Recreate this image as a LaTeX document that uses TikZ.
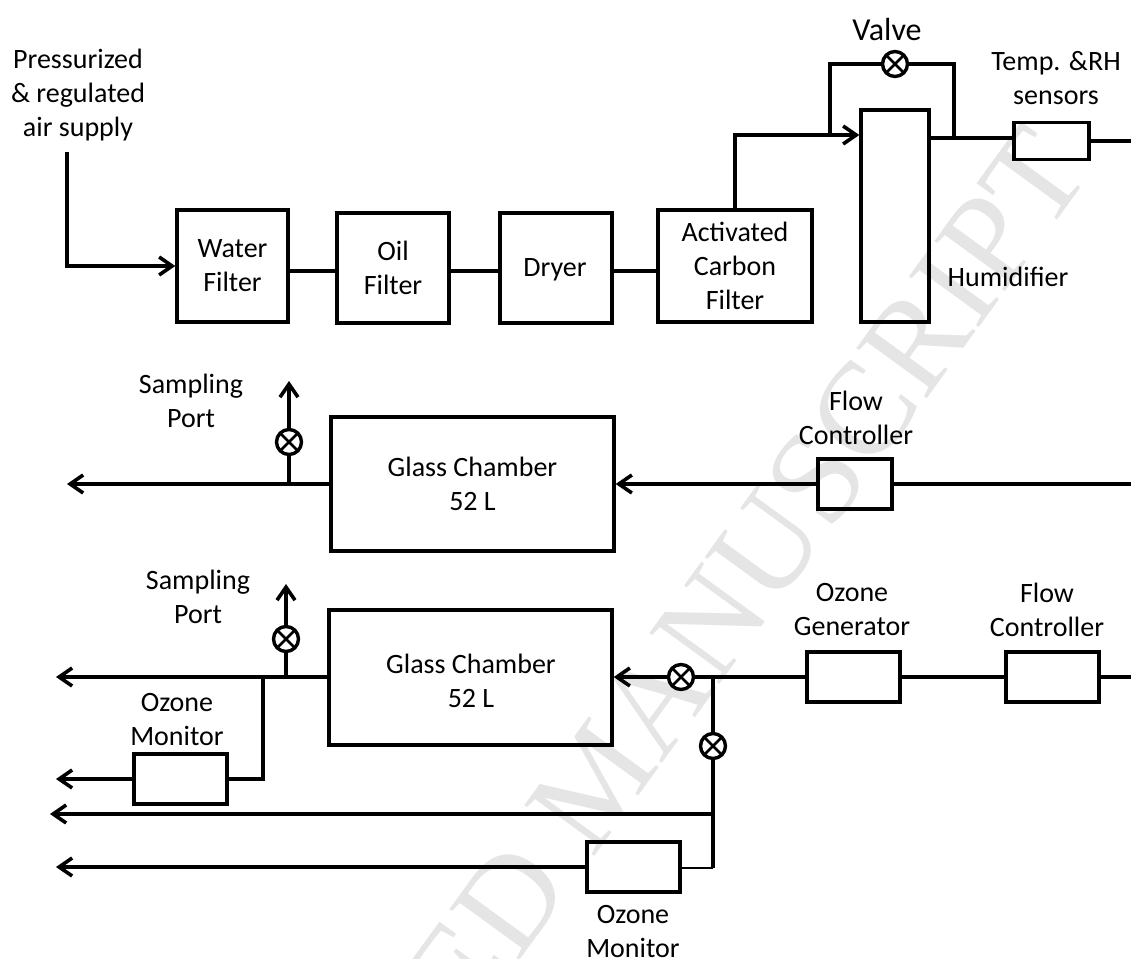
\documentclass[tikz,border=0pt]{standalone}
\usepackage{fontspec}
\setmainfont{Carlito}
\newfontfamily\markfont{Liberation Serif}
\usetikzlibrary{arrows.meta}
\tikzset{
  basic/.style  = {draw, line width=3.4pt, rectangle, inner sep=0pt, align=center},
  unit/.style   = {basic, minimum width=#1, minimum height=112pt},
  sensor/.style = {basic, minimum width=#1, minimum height=50pt},
  chamber/.style = {basic, minimum width=283pt, minimum height=135pt},
  valve/.style  = {draw, circle, line width=3.4pt, minimum size=25pt, inner sep=0pt, fill=white,
    path picture={
      \draw[line width=2.6pt] (path picture bounding box.south west) -- (path picture bounding box.north east);
      \draw[line width=2.6pt] (path picture bounding box.north west) -- (path picture bounding box.south east);
    }},
  label/.style  = {align=center, inner sep=0pt},
  pipe/.style   = {draw, line width=3.2pt},
  feed/.style   = {pipe, -{Straight Barb[length=13pt,width=18pt,line width=3.6pt]}},
  watermark/.style = {anchor=base east, inner sep=0pt, rotate=54, text=black!10, font=\markfont\fontsize{132}{132}\selectfont}
}

\begin{document}
\begin{tikzpicture}[x=1pt, y=-1pt, font=\fontsize{28}{34}\selectfont]
	\useasboundingbox (0,0) rectangle (1131,958);
	\begin{scope}
		\clip (0,0) rectangle (1131,958);
		\node[watermark] (mark) at (1093,171) {ACCEPTED MANUSCRIPT};
	\end{scope}

	% air treatment line
	\node[unit=111pt] (water) at (232.5,266) {Water\\Filter};
	\node[unit=112pt, minimum height=110pt] (oil) at (393,268) {Oil\\Filter};
	\node[unit=112pt, minimum height=110pt] (dryer) at (556,268) {};
	\node[unit=154pt] (carbon) at (735,266) {Activated\\Carbon\\Filter};
	\node[basic, minimum width=68pt, minimum height=212pt] (humid) at (895,216) {};
	\node[basic, minimum width=75pt, minimum height=37pt] (sensors) at (1051.5,141) {};
	\node[valve] (valve1) at (895,64) {};
	\node[label] (dryerlabel) at (555,270) {Dryer};
	\node[label] (air) at (78,95) {Pressurized\\\& regulated\\air supply};
	\node[label, font=\fontsize{32}{34}\selectfont] (valvelabel) at (887,30) {Valve};
	\node[label] (templabel) at (1056,78) {Temp. \&RH\\sensors};
	\node[label] (humidlabel) at (1008,277) {Humidifier};

	\coordinate (airstart) at (67,152);
	\coordinate (pipeA) at (0,271);
	\coordinate (branchA) at (830,135);
	\coordinate (branchB) at (954,138);
	\coordinate (rightA) at (1131,141);
	\draw[feed] (airstart) |- (water.west);
	\draw[pipe] (water.east |- pipeA) -- (oil.west |- pipeA);
	\draw[pipe] (oil.east |- pipeA) -- (dryer.west |- pipeA);
	\draw[pipe] (dryer.east |- pipeA) -- (carbon.west |- pipeA);
	\draw[feed] (carbon.north) |- (branchA -| humid.west);
	\draw[pipe] (branchA) |- (valve1.west);
	\draw[pipe] (valve1.east) -| (branchB);
	\draw[pipe] (branchB -| humid.east) -- (branchB -| sensors.west);
	\draw[pipe] (sensors.east) -- (rightA);

	% first chamber
	\node[chamber, minimum height=134pt] (glassA) at (472.5,484) {Glass Chamber\\52 L};
	\node[sensor=74pt] (flowA) at (855,484) {};
	\node[valve] (valve2) at (289,442) {};
	\node[label] (sampleA) at (191,401) {Sampling\\Port};
	\node[label] (flowlabelA) at (856,418) {Flow\\Controller};

	\coordinate (rightB) at (1131,484);
	\coordinate (outA) at (67,484);
	\coordinate (topA) at (289,381);
	\coordinate (tapA) at (289,484);
	\draw[pipe] (rightB) -- (flowA.east);
	\draw[feed] (flowA.west) -- (glassA.east);
	\draw[feed] (glassA.west) -- (outA);
	\draw[pipe] (tapA) -- (valve2.south);
	\draw[feed] (valve2.north) -- (topA);

	% second chamber
	\node[chamber] (glassB) at (470.5,677.5) {};
	\node[sensor=93pt] (generator) at (853.5,677) {};
	\node[sensor=93pt] (flowB) at (1052.5,677) {};
	\node[sensor=93pt] (monitorA) at (180.5,779) {};
	\node[sensor=93pt] (monitorB) at (633.5,867) {};
	\node[valve] (valve3) at (286,639) {};
	\node[valve] (valve4) at (681,677) {};
	\node[valve] (valve5) at (713,746) {};
	\node[label] (glasslabel) at (471,681) {Glass Chamber\\52 L};
	\node[label] (sampleB) at (198,597) {Sampling\\Port};
	\node[label] (monitorlabelA) at (177,720) {Ozone\\Monitor};
	\node[label] (generatorlabel) at (852,610) {Ozone\\Generator};
	\node[label] (flowlabelB) at (1047,610) {Flow\\Controller};
	\node[label] (monitorlabelB) at (633,932) {Ozone\\Monitor};

	\coordinate (rightC) at (1131,677);
	\coordinate (outB) at (56,677);
	\coordinate (outC) at (56,779);
	\coordinate (outD) at (50,814);
	\coordinate (outE) at (56,867);
	\coordinate (topB) at (286,584);
	\coordinate (tapB) at (286,677);
	\coordinate (tapC) at (263,677);
	\coordinate (junctionA) at (713,677);
	\coordinate (junctionB) at (713,814);
	\coordinate (junctionC) at (713,868);
	\draw[pipe] (rightC) -- (flowB.east);
	\draw[pipe] (flowB.west) -- (generator.east);
	\draw[pipe] (generator.west) -- (valve4.east);
	\draw[feed] (valve4.west) -- (valve4.west -| glassB.east);
	\draw[feed] (glassB.west |- outB) -- (outB);
	\draw[pipe] (tapB) -- (valve3.south);
	\draw[feed] (valve3.north) -- (topB);
	\draw[pipe] (tapC) |- (monitorA.east);
	\draw[feed] (monitorA.west) -- (outC);
	\draw[pipe] (junctionA) -- (valve5.north);
	\draw[pipe] (valve5.south) -- (junctionC);
	\draw[feed] (junctionB) -- (outD);
	\draw[pipe, line width=1.5pt] (junctionC) -- (junctionC -| monitorB.east);
	\draw[feed] (monitorB.west) -- (outE);
\end{tikzpicture}
\end{document}
